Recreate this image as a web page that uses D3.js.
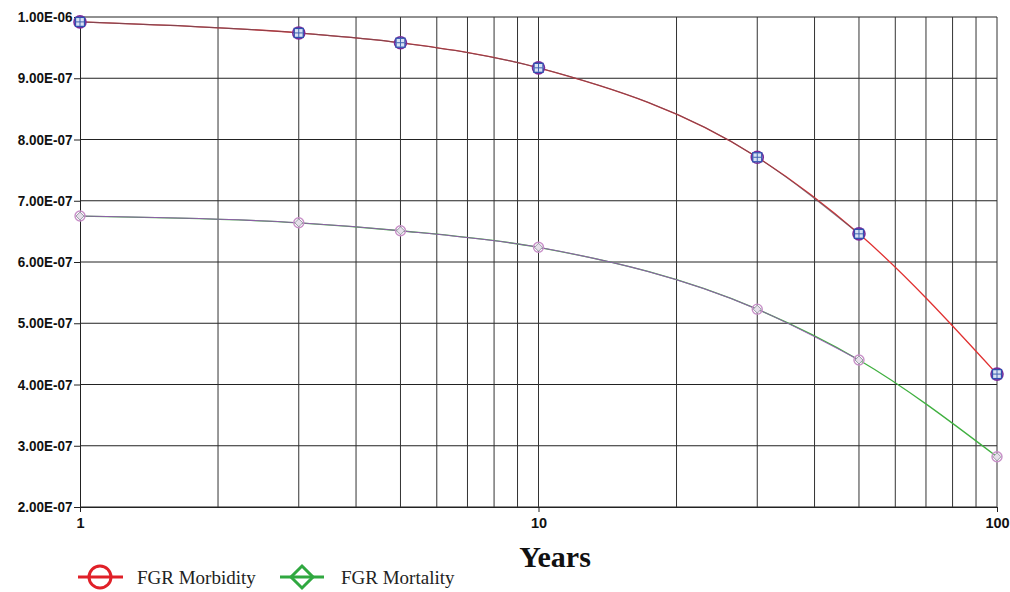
<!DOCTYPE html>
<html>
<head>
<meta charset="utf-8">
<script src="https://cdn.jsdelivr.net/npm/d3@7"></script>
<style>
  body { margin: 0; background: #fff; }
  svg { display: block; }
</style>
</head>
<body>
<div id="chart"></div>
<script>
// data
const years = [1, 3, 5, 10, 30, 50, 100];
const morbidity = [9.92e-7, 9.74e-7, 9.58e-7, 9.17e-7, 7.71e-7, 6.46e-7, 4.17e-7];
const mortality = [6.75e-7, 6.64e-7, 6.51e-7, 6.24e-7, 5.23e-7, 4.40e-7, 2.82e-7];
const yTicks = [2e-7, 3e-7, 4e-7, 5e-7, 6e-7, 7e-7, 8e-7, 9e-7, 1e-6];
const xGrid = [2, 3, 4, 5, 6, 7, 8, 9, 10, 20, 30, 40, 50, 60, 70, 80, 90, 100];
const xLabels = [1, 10, 100];

const W = 1010, H = 592;
const margin = { top: 17, right: 13, bottom: 85, left: 80 };
const width = W - margin.left - margin.right;
const height = H - margin.top - margin.bottom;

const svg = d3.select("#chart").append("svg")
  .attr("width", W)
  .attr("height", H);

const g = svg.append("g")
  .attr("transform", `translate(${margin.left},${margin.top})`);

const x = d3.scaleLog().domain([1, 100]).range([0, width]);
const y = d3.scaleLinear().domain([2e-7, 1e-6]).range([height, 0]);

// grid
g.selectAll(".hgrid")
  .data(yTicks)
  .enter().append("line")
  .attr("x1", 0).attr("x2", width)
  .attr("y1", d => y(d)).attr("y2", d => y(d))
  .attr("stroke", "#222").attr("stroke-width", 1);

g.selectAll(".vgrid")
  .data(xGrid)
  .enter().append("line")
  .attr("x1", d => x(d)).attr("x2", d => x(d))
  .attr("y1", 0).attr("y2", height)
  .attr("stroke", "#333").attr("stroke-width", 1);

// y axis
const yAxis = g.append("g")
  .call(d3.axisLeft(y).tickValues(yTicks).tickSize(6).tickFormat(d => d.toExponential(2).toUpperCase().replace(/E([+-])(\d)$/, "E$10$2")));
yAxis.select(".domain").attr("stroke", "#222");
yAxis.selectAll("line").attr("stroke", "#222");
yAxis.selectAll("text")
  .attr("x", -8)
  .style("font-family", "'Liberation Sans', Arial, sans-serif")
  .style("font-weight", "bold")
  .style("font-size", "14.5px")
  .attr("transform", "scale(0.93,1)")
  .attr("fill", "#111");

// x axis
const xAxis = g.append("g")
  .attr("transform", `translate(0,${height})`)
  .call(d3.axisBottom(x).tickValues(xLabels).tickSize(5).tickFormat(d3.format("d")));
xAxis.select(".domain").attr("stroke", "#222");
xAxis.selectAll("line").attr("stroke", "#222");
xAxis.selectAll("text")
  .attr("y", 11)
  .style("font-family", "'Liberation Sans', Arial, sans-serif")
  .style("font-weight", "bold")
  .style("font-size", "14.5px")
  .attr("fill", "#111");

svg.append("text")
  .attr("x", 555)
  .attr("y", 567)
  .attr("text-anchor", "middle")
  .style("font-family", "'Liberation Serif', 'Times New Roman', serif")
  .style("font-weight", "bold")
  .style("font-size", "30px")
  .attr("fill", "#111")
  .text("Years");

// lines
const line = d3.line()
  .x(d => x(d[0]))
  .y(d => y(d[1]))
  .curve(d3.curveMonotoneX);

const morbPts = years.map((d, i) => [d, morbidity[i]]);
const mortPts = years.map((d, i) => [d, mortality[i]]);

g.append("path").datum(morbPts)
  .attr("d", line).attr("fill", "none")
  .attr("stroke", "#e03030").attr("stroke-width", 1.3);
g.append("path").datum(morbPts.slice(0, 6))
  .attr("d", line).attr("fill", "none")
  .attr("stroke", "#6a4a58").attr("stroke-width", 1.1).attr("opacity", 0.75);

g.append("path").datum(mortPts)
  .attr("d", line).attr("fill", "none")
  .attr("stroke", "#40b040").attr("stroke-width", 1.3);
g.append("path").datum(mortPts.slice(0, 6))
  .attr("d", line).attr("fill", "none")
  .attr("stroke", "#9a50b8").attr("stroke-width", 1.1).attr("opacity", 0.85);

// markers - morbidity
const mk1 = g.selectAll(".mk1")
  .data(morbPts)
  .enter().append("g")
  .attr("transform", d => `translate(${x(d[0])},${y(d[1])})`);
mk1.append("circle").attr("r", 6)
  .attr("fill", "none").attr("stroke", "#7a2a9a").attr("stroke-width", 1.6);
mk1.append("rect").attr("x", -4.5).attr("y", -4.5).attr("width", 9).attr("height", 9)
  .attr("fill", "#d8e4f4").attr("stroke", "#3050b0").attr("stroke-width", 1.3);
mk1.append("path").attr("d", "M-4,0H4M0,-4V4")
  .attr("stroke", "#4060b0").attr("stroke-width", 1);

// markers - mortality
const mk2 = g.selectAll(".mk2")
  .data(mortPts)
  .enter().append("g")
  .attr("transform", d => `translate(${x(d[0])},${y(d[1])})`);
mk2.append("circle").attr("r", 5)
  .attr("fill", "none").attr("stroke", "#c890c8").attr("stroke-width", 1.4);
mk2.append("path").attr("d", "M0,-4L4,0L0,4L-4,0Z")
  .attr("fill", "#e6e0ea").attr("stroke", "#9a9aa8").attr("stroke-width", 1);

// legend
const legend = svg.append("g").attr("transform", "translate(0,577)");
legend.append("line").attr("x1", 78).attr("x2", 123).attr("y1", 0).attr("y2", 0)
  .attr("stroke", "#e02028").attr("stroke-width", 3);
legend.append("circle").attr("cx", 100).attr("cy", 0).attr("r", 11)
  .attr("fill", "none").attr("stroke", "#e02028").attr("stroke-width", 3);
legend.append("text").attr("x", 137).attr("y", 7)
  .style("font-family", "'Liberation Serif', 'Times New Roman', serif")
  .style("font-size", "19px").attr("fill", "#222")
  .text("FGR Morbidity");

legend.append("line").attr("x1", 280).attr("x2", 324).attr("y1", 0).attr("y2", 0)
  .attr("stroke", "#30a840").attr("stroke-width", 3);
legend.append("path").attr("d", "M302,-11L313,0L302,11L291,0Z")
  .attr("fill", "none").attr("stroke", "#30a840").attr("stroke-width", 3);
legend.append("text").attr("x", 341).attr("y", 7)
  .style("font-family", "'Liberation Serif', 'Times New Roman', serif")
  .style("font-size", "19px").attr("fill", "#222")
  .text("FGR Mortality");
</script>
</body>
</html>
